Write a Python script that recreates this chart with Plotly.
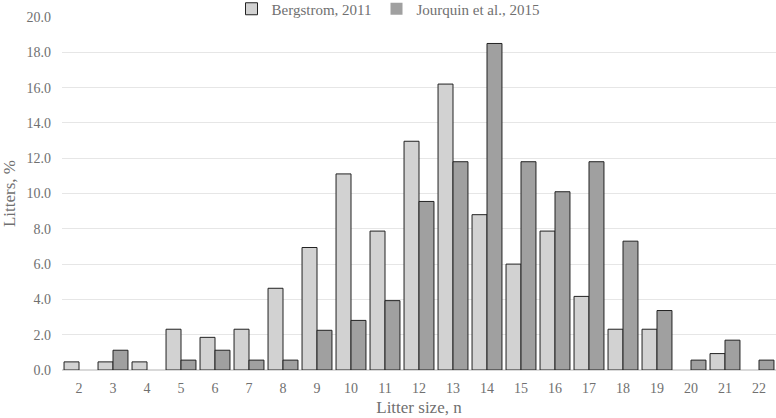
import plotly.graph_objects as go

categories = [str(i) for i in range(2, 23)]
bergstrom = [0.46, 0.46, 0.46, 2.31, 1.85, 2.31, 4.63, 6.94, 11.11, 7.87, 12.96,
             16.2, 8.8, 6.0, 7.87, 4.17, 2.31, 2.31, 0, 0.93, 0]
jourquin = [0, 1.12, 0, 0.56, 1.12, 0.56, 0.56, 2.25, 2.81, 3.93, 9.55,
            11.8, 18.5, 11.8, 10.1, 11.8, 7.3, 3.37, 0.56, 1.69, 0.56]
yticks = [0, 2, 4, 6, 8, 10, 12, 14, 16, 18, 20]


def edge_widths(vals):
    return [1 if v > 0 else 0 for v in vals]


fig = go.Figure()
fig.add_trace(go.Bar(x=categories, y=bergstrom, name="Bergstrom, 2011",
                     marker=dict(color="#d2d2d2",
                                 line=dict(color="#222222", width=edge_widths(bergstrom)))))
fig.add_trace(go.Bar(x=categories, y=jourquin, name="Jourquin et al., 2015",
                     marker=dict(color="#a0a0a0",
                                 line=dict(color="#222222", width=edge_widths(jourquin)))))

font = dict(family="Liberation Serif", size=14, color="#707070")
fig.update_layout(
    width=776, height=418,
    margin=dict(l=62, r=0, t=17, b=48, autoexpand=False),
    barmode="group", bargap=0.12, bargroupgap=0,
    plot_bgcolor="white", paper_bgcolor="white",
    font=font,
    legend=dict(orientation="h", x=0.5, xanchor="center", xref="container",
                y=1 - 9 / 418, yanchor="middle", yref="container",
                font=dict(family="Liberation Serif", size=15, color="#707070"),
                itemwidth=30, tracegroupgap=0),
    xaxis=dict(title=dict(text="Litter size, n", standoff=6), showgrid=False,
               tickfont=font, ticks="", showline=False, automargin=False,
               ticklabelstandoff=8),
    yaxis=dict(title=dict(text="Litters, %", standoff=12), range=[0, 20], tickvals=yticks,
               tickformat=".1f", gridcolor="#e6e6e6", zeroline=True, zerolinecolor="#d9d9d9",
               tickfont=font, ticks="", automargin=False, ticklabelstandoff=10),
)
fig.write_html("out.html", config={"displayModeBar": False},
               post_script="document.body.style.margin='0';document.body.style.overflow='hidden';")
